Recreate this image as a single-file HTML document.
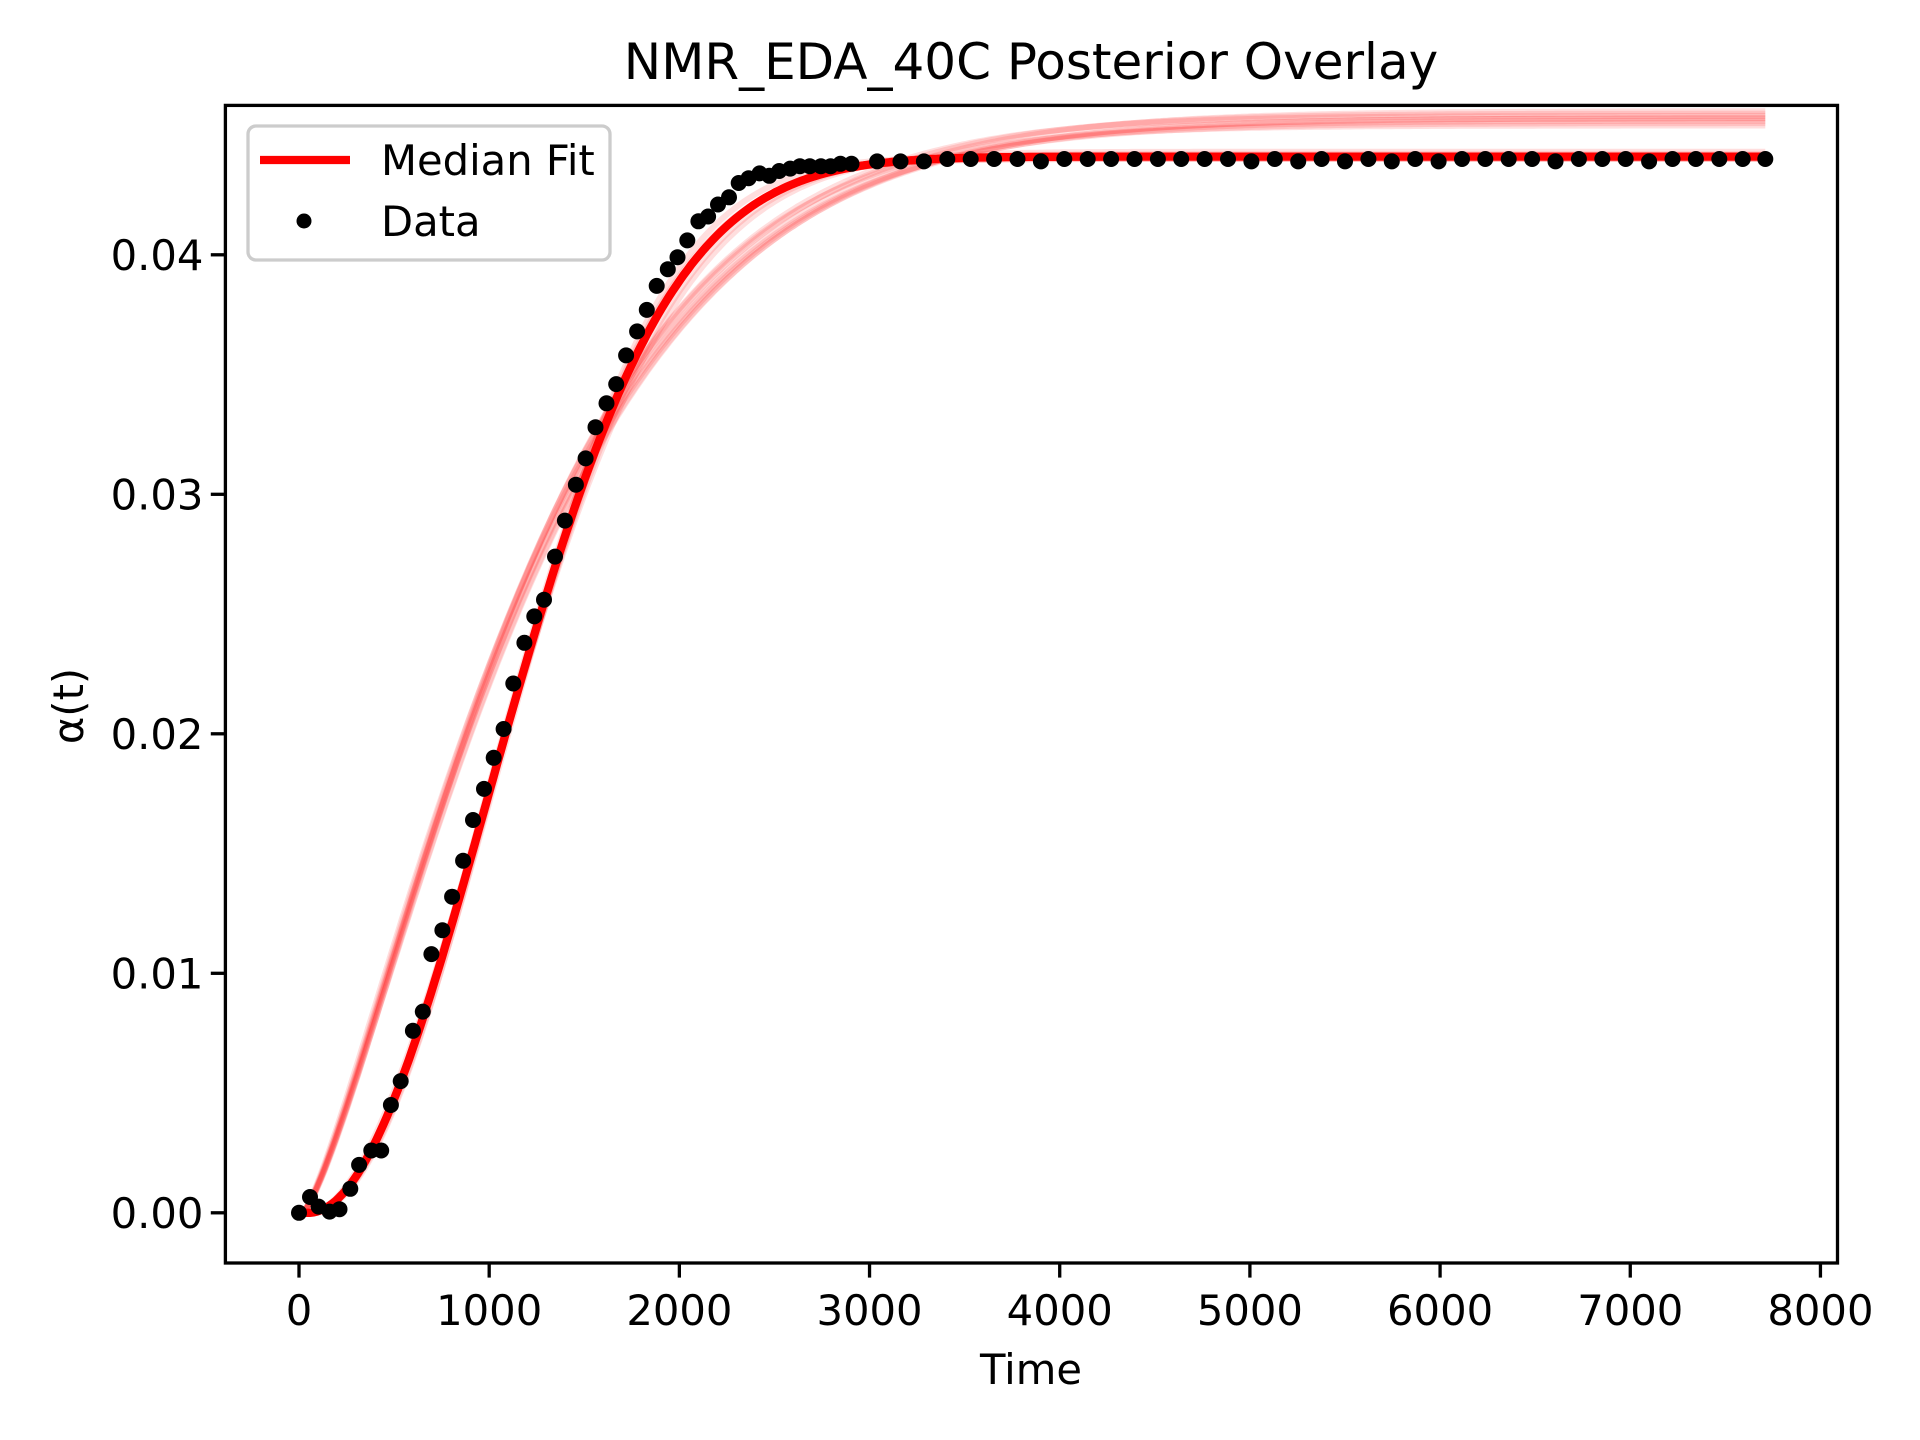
<!DOCTYPE html>
<html><head><meta charset="utf-8"><style>
html,body{margin:0;padding:0;background:#fff;}
svg{display:block;font-family:"DejaVu Sans","Liberation Sans",sans-serif;}
</style></head><body>
<svg id="chart" width="1920" height="1440" viewBox="0 0 1920 1440" xmlns="http://www.w3.org/2000/svg">
<rect width="1920" height="1440" fill="#fff"/>
<text x="1031" y="79" font-size="50" text-anchor="middle" fill="#000">NMR_EDA_40C Posterior Overlay</text>
<text x="1031" y="1384" font-size="41.7" text-anchor="middle" fill="#000">Time</text>
<text transform="translate(83,706) rotate(-90)" font-size="41.7" text-anchor="middle" fill="#000">α(t)</text>
<g id="plot"></g>
<g id="axes"></g>
<g id="legend">
<rect x="248" y="126" width="362" height="134" rx="8" fill="#fff" fill-opacity="0.8" stroke="#ccc" stroke-width="3.3"/>
<line x1="260" y1="160" x2="350" y2="160" stroke="#f00" stroke-width="8.3"/>
<text x="381" y="175" font-size="41.7" fill="#000">Median Fit</text>
<circle cx="304" cy="221" r="7.5" fill="#000"/>
<text x="381" y="236" font-size="41.7" fill="#000">Data</text>
</g>
</svg>
<script>
const dataTimes=[0,58,103,161,213,270,316,380,432,483,535,599,651,696,754,805,863,915,973,1024,1076,1127,1185,1237,1288,1346,1398,1456,1507,1559,1617,1668,1720,1778,1829,1881,1939,1990,2042,2100,2151,2203,2261,2312,2364,2422,2473,2525,2583,2634,2686,2744,2795,2847,2905,3040,3163,3286,3409,3532,3655,3778,3901,4024,4147,4270,4393,4516,4639,4762,4885,5008,5131,5254,5377,5500,5623,5746,5869,5992,6115,6238,6361,6484,6607,6730,6853,6976,7099,7222,7345,7468,7591,7710];
const dataValues=[0,0.00066,0.00026,0.00005,0.00015,0.0010,0.0020,0.0026,0.0026,0.0045,0.0055,0.0076,0.0084,0.0108,0.0118,0.0132,0.0147,0.0164,0.0177,0.0190,0.0202,0.0221,0.0238,0.0249,0.0256,0.0274,0.0289,0.0304,0.0315,0.0328,0.0338,0.0346,0.0358,0.0368,0.0377,0.0387,0.0394,0.0399,0.0406,0.0414,0.0416,0.0421,0.0424,0.0430,0.0432,0.0434,0.0433,0.0435,0.0436,0.0437,0.0437,0.0437,0.0437,0.0438,0.0438,0.0439,0.0439,0.0439,0.0440,0.0440,0.0440,0.0440,0.0439,0.0440,0.0440,0.0440,0.0440,0.0440,0.0440,0.0440,0.0440,0.0439,0.0440,0.0439,0.0440,0.0439,0.0440,0.0439,0.0440,0.0439,0.0440,0.0440,0.0440,0.0440,0.0439,0.0440,0.0440,0.0440,0.0439,0.0440,0.0440,0.0440,0.0440,0.0440];
// posterior samples: amplitude, rate, exponent, onset time
const sampleA=[0.0440,0.0441,0.0442,0.0441,0.0443,0.0440,0.0455,0.0457,0.0458,0.0456,0.0460,0.0454,0.0457,0.0459];
const sampleK=[0.000745,0.000750,0.000740,0.000755,0.000735,0.000760,0.000760,0.000752,0.000768,0.000745,0.000758,0.000775,0.000740,0.000765];
const sampleN=[2.05,2.0,1.95,2.1,1.9,2.0,1.3,1.28,1.32,1.3,1.26,1.34,1.3,1.29];
const sampleT0=[50,50,50,50,50,50,20,20,20,20,20,20,20,20];
const medianA=0.0441, medianK=0.000750, medianN=2.0, medianT0=50;
const xTicks=[0,1000,2000,3000,4000,5000,6000,7000,8000];
const yTicks=[0,0.01,0.02,0.03,0.04];
const yTickLabels=["0.00","0.01","0.02","0.03","0.04"];
const tEnd=7710;

const L=225.4,R=1837.5,T=105.4,B=1263;
const xs=t=>299+t*0.19018;
const ys=v=>1212.8-v*23950;
const NS="http://www.w3.org/2000/svg";
const plot=document.getElementById('plot'), axes=document.getElementById('axes');
function el(tag,attrs,parent){const e=document.createElementNS(NS,tag);for(const k in attrs)e.setAttribute(k,attrs[k]);parent.appendChild(e);return e;}
function curve(A,k,n,t0){let d='';for(let i=0;i<=400;i++){const t=tEnd*i/400;const tt=Math.max(0,t-t0);const v=A*(1-Math.exp(-Math.pow(k*tt,n)));d+=(i?'L':'M')+xs(t).toFixed(1)+' '+ys(v).toFixed(1);}return d;}
for(let i=0;i<sampleA.length;i++){
  const p=el('path',{d:curve(sampleA[i],sampleK[i],sampleN[i],sampleT0[i]),fill:'none',stroke:'#f00','stroke-opacity':0.13,'stroke-width':6},plot);
  
  
}
const m=el('path',{d:curve(medianA,medianK,medianN,medianT0),fill:'none',stroke:'#f00','stroke-width':8.3},plot);


for(let i=0;i<dataTimes.length;i++){
  const c=el('circle',{cx:xs(dataTimes[i]).toFixed(1),cy:ys(dataValues[i]).toFixed(1),r:8,fill:'#000'},plot);
  
  
}
const frame=el('rect',{x:L,y:T,width:R-L,height:B-T,fill:'none',stroke:'#000','stroke-width':3.3},axes);


xTicks.forEach(t=>{
  const x=xs(t);
  const tk=el('line',{x1:x,y1:B,x2:x,y2:B+14.6,stroke:'#000','stroke-width':3.3},axes);
  
  
  const lb=el('text',{x:x,y:B+62,'font-size':41.7,'text-anchor':'middle',fill:'#000'},axes);
  lb.textContent=String(t);
  
  
});
yTicks.forEach((v,i)=>{
  const y=ys(v);
  const tk=el('line',{x1:L-14.6,y1:y,x2:L,y2:y,stroke:'#000','stroke-width':3.3},axes);
  
  
  const lb=el('text',{x:L-22,y:y+15,'font-size':41.7,'text-anchor':'end',fill:'#000'},axes);
  lb.textContent=yTickLabels[i];
  
  
});
</script>
</body></html>
